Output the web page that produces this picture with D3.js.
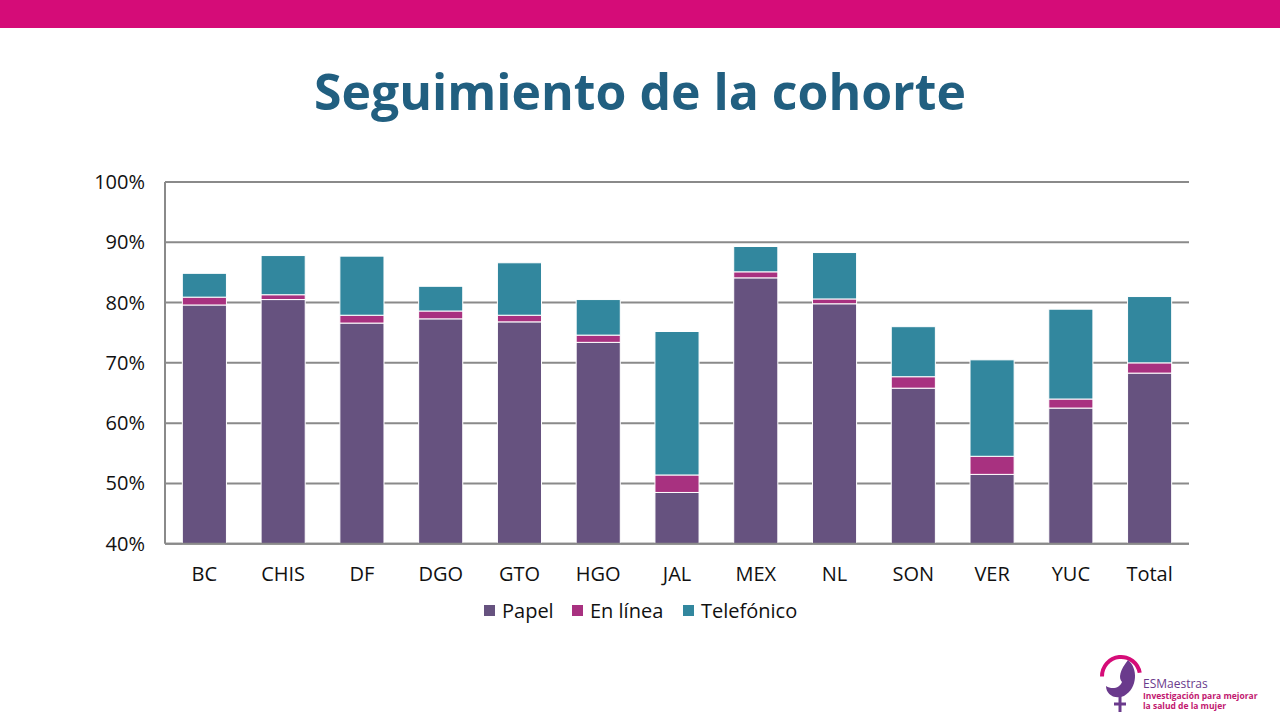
<!DOCTYPE html>
<html><head><meta charset="utf-8">
<script src="https://cdn.jsdelivr.net/npm/d3@7"></script>
<style>body{margin:0;background:#fff;}svg{display:block;}</style>
</head><body>
<script>
const categories = ["BC","CHIS","DF","DGO","GTO","HGO","JAL","MEX","NL","SON","VER","YUC","Total"];
const papel      = [79.6, 80.5, 76.6, 77.3, 76.8, 73.4, 48.5, 84.1, 79.8, 65.8, 51.5, 62.5, 68.3];
const enLinea    = [1.3, 0.8, 1.3, 1.3, 1.1, 1.2, 2.9, 1.0, 0.8, 1.9, 3.0, 1.5, 1.7];
const telefonico = [3.95, 6.5, 9.8, 4.1, 8.7, 5.9, 23.8, 4.2, 7.7, 8.3, 16.0, 14.9, 11.0];
const seriesNames = ["Papel","En línea","Telefónico"];
const yTicks = [40,50,60,70,80,90,100];
const colors = ["#66527f","#a83180","#32879e"];

const W=1280,H=720;
const svg=d3.select("body").append("svg").attr("width",W).attr("height",H);
const font="'Open Sans', sans-serif";

svg.append("rect").attr("x",0).attr("y",0).attr("width",W).attr("height",28).attr("fill","#d50c78");

const title=svg.append("text").attr("x",640).attr("y",110).attr("text-anchor","middle")
  .attr("font-family",font).attr("font-weight","bold").attr("font-size",48)
  .attr("fill","#215f80").text("Seguimiento de la cohorte");
{const w=title.node().getComputedTextLength(); title.attr("font-size",48*652/w);}

const x=d3.scaleBand().domain(categories).range([165,1189]).paddingInner(0.44).paddingOuter(0.22);
const y=d3.scaleLinear().domain([40,100]).range([543.7,182]);

// gridlines
svg.append("g").selectAll("line").data(yTicks).join("line")
  .attr("x1",165).attr("x2",1189).attr("y1",d=>y(d)).attr("y2",d=>y(d))
  .attr("stroke","#8a8a8a").attr("stroke-width",2);
svg.append("line").attr("x1",165).attr("x2",165).attr("y1",y(100)).attr("y2",y(40))
  .attr("stroke","#8a8a8a").attr("stroke-width",2);

// y labels
svg.append("g").selectAll("text").data(yTicks).join("text")
  .attr("x",145).attr("y",d=>y(d)).attr("dy","0.35em").attr("text-anchor","end")
  .attr("font-family",font).attr("font-size",20).attr("fill","#111").text(d=>d+"%");

// stacked data
const rows=categories.map((c,i)=>({cat:c,"Papel":papel[i],"En línea":enLinea[i],"Telefónico":telefonico[i]}));
const stack=d3.stack().keys(seriesNames)(rows);
stack.forEach((s,si)=>{
  svg.append("g").selectAll("rect").data(s).join("rect")
    .attr("x",d=>x(d.data.cat)).attr("width",x.bandwidth())
    .attr("y",d=>y(d[1])).attr("height",d=>y(Math.max(d[0],40))-y(d[1]))
    .attr("fill",colors[si]).attr("stroke","#fff").attr("stroke-width",1);
});
svg.append("line").attr("x1",165).attr("x2",1189).attr("y1",y(40)).attr("y2",y(40))
  .attr("stroke","#8a8a8a").attr("stroke-width",2);

// x labels
svg.append("g").selectAll("text").data(categories).join("text")
  .attr("x",d=>x(d)+x.bandwidth()/2).attr("y",581).attr("text-anchor","middle")
  .attr("font-family",font).attr("font-size",20).attr("fill","#111").text(d=>d);

// legend
const legX=[484,572,683];
const lg=svg.append("g");
seriesNames.forEach((n,i)=>{
  lg.append("rect").attr("x",legX[i]).attr("y",605).attr("width",11).attr("height",11).attr("fill",colors[i]);
  lg.append("text").attr("x",legX[i]+18).attr("y",611).attr("dy","0.35em")
    .attr("font-family",font).attr("font-size",20).attr("fill","#111").text(n);
});

// logo
const logo=svg.append("g");
logo.append("path").attr("d",d3.arc()({innerRadius:17,outerRadius:21,startAngle:-1.6,endAngle:1.4}))
  .attr("transform","translate(1121,676)").attr("fill","#d50c78");
logo.append("path").attr("d","M1128,660 C1138,668 1138,688 1124,696 C1114,700 1106,694 1106,686 C1112,690 1120,688 1122,682 C1118,678 1120,670 1128,660 Z")
  .attr("fill","#6a3a8c");
logo.append("line").attr("x1",1120).attr("x2",1120).attr("y1",696).attr("y2",712).attr("stroke","#6a3a8c").attr("stroke-width",3);
logo.append("line").attr("x1",1114).attr("x2",1126).attr("y1",704).attr("y2",704).attr("stroke","#6a3a8c").attr("stroke-width",3);
logo.append("text").attr("x",1143).attr("y",688).attr("font-family",font).attr("font-size",12).attr("fill","#6a3a8c").text("ESMaestras");
logo.append("text").attr("x",1143).attr("y",699).attr("font-family",font).attr("font-weight","bold").attr("font-size",8.5).attr("fill","#c2186f").text("Investigación para mejorar");
logo.append("text").attr("x",1143).attr("y",709).attr("font-family",font).attr("font-weight","bold").attr("font-size",8.5).attr("fill","#c2186f").text("la salud de la mujer");
</script>
</body></html>
